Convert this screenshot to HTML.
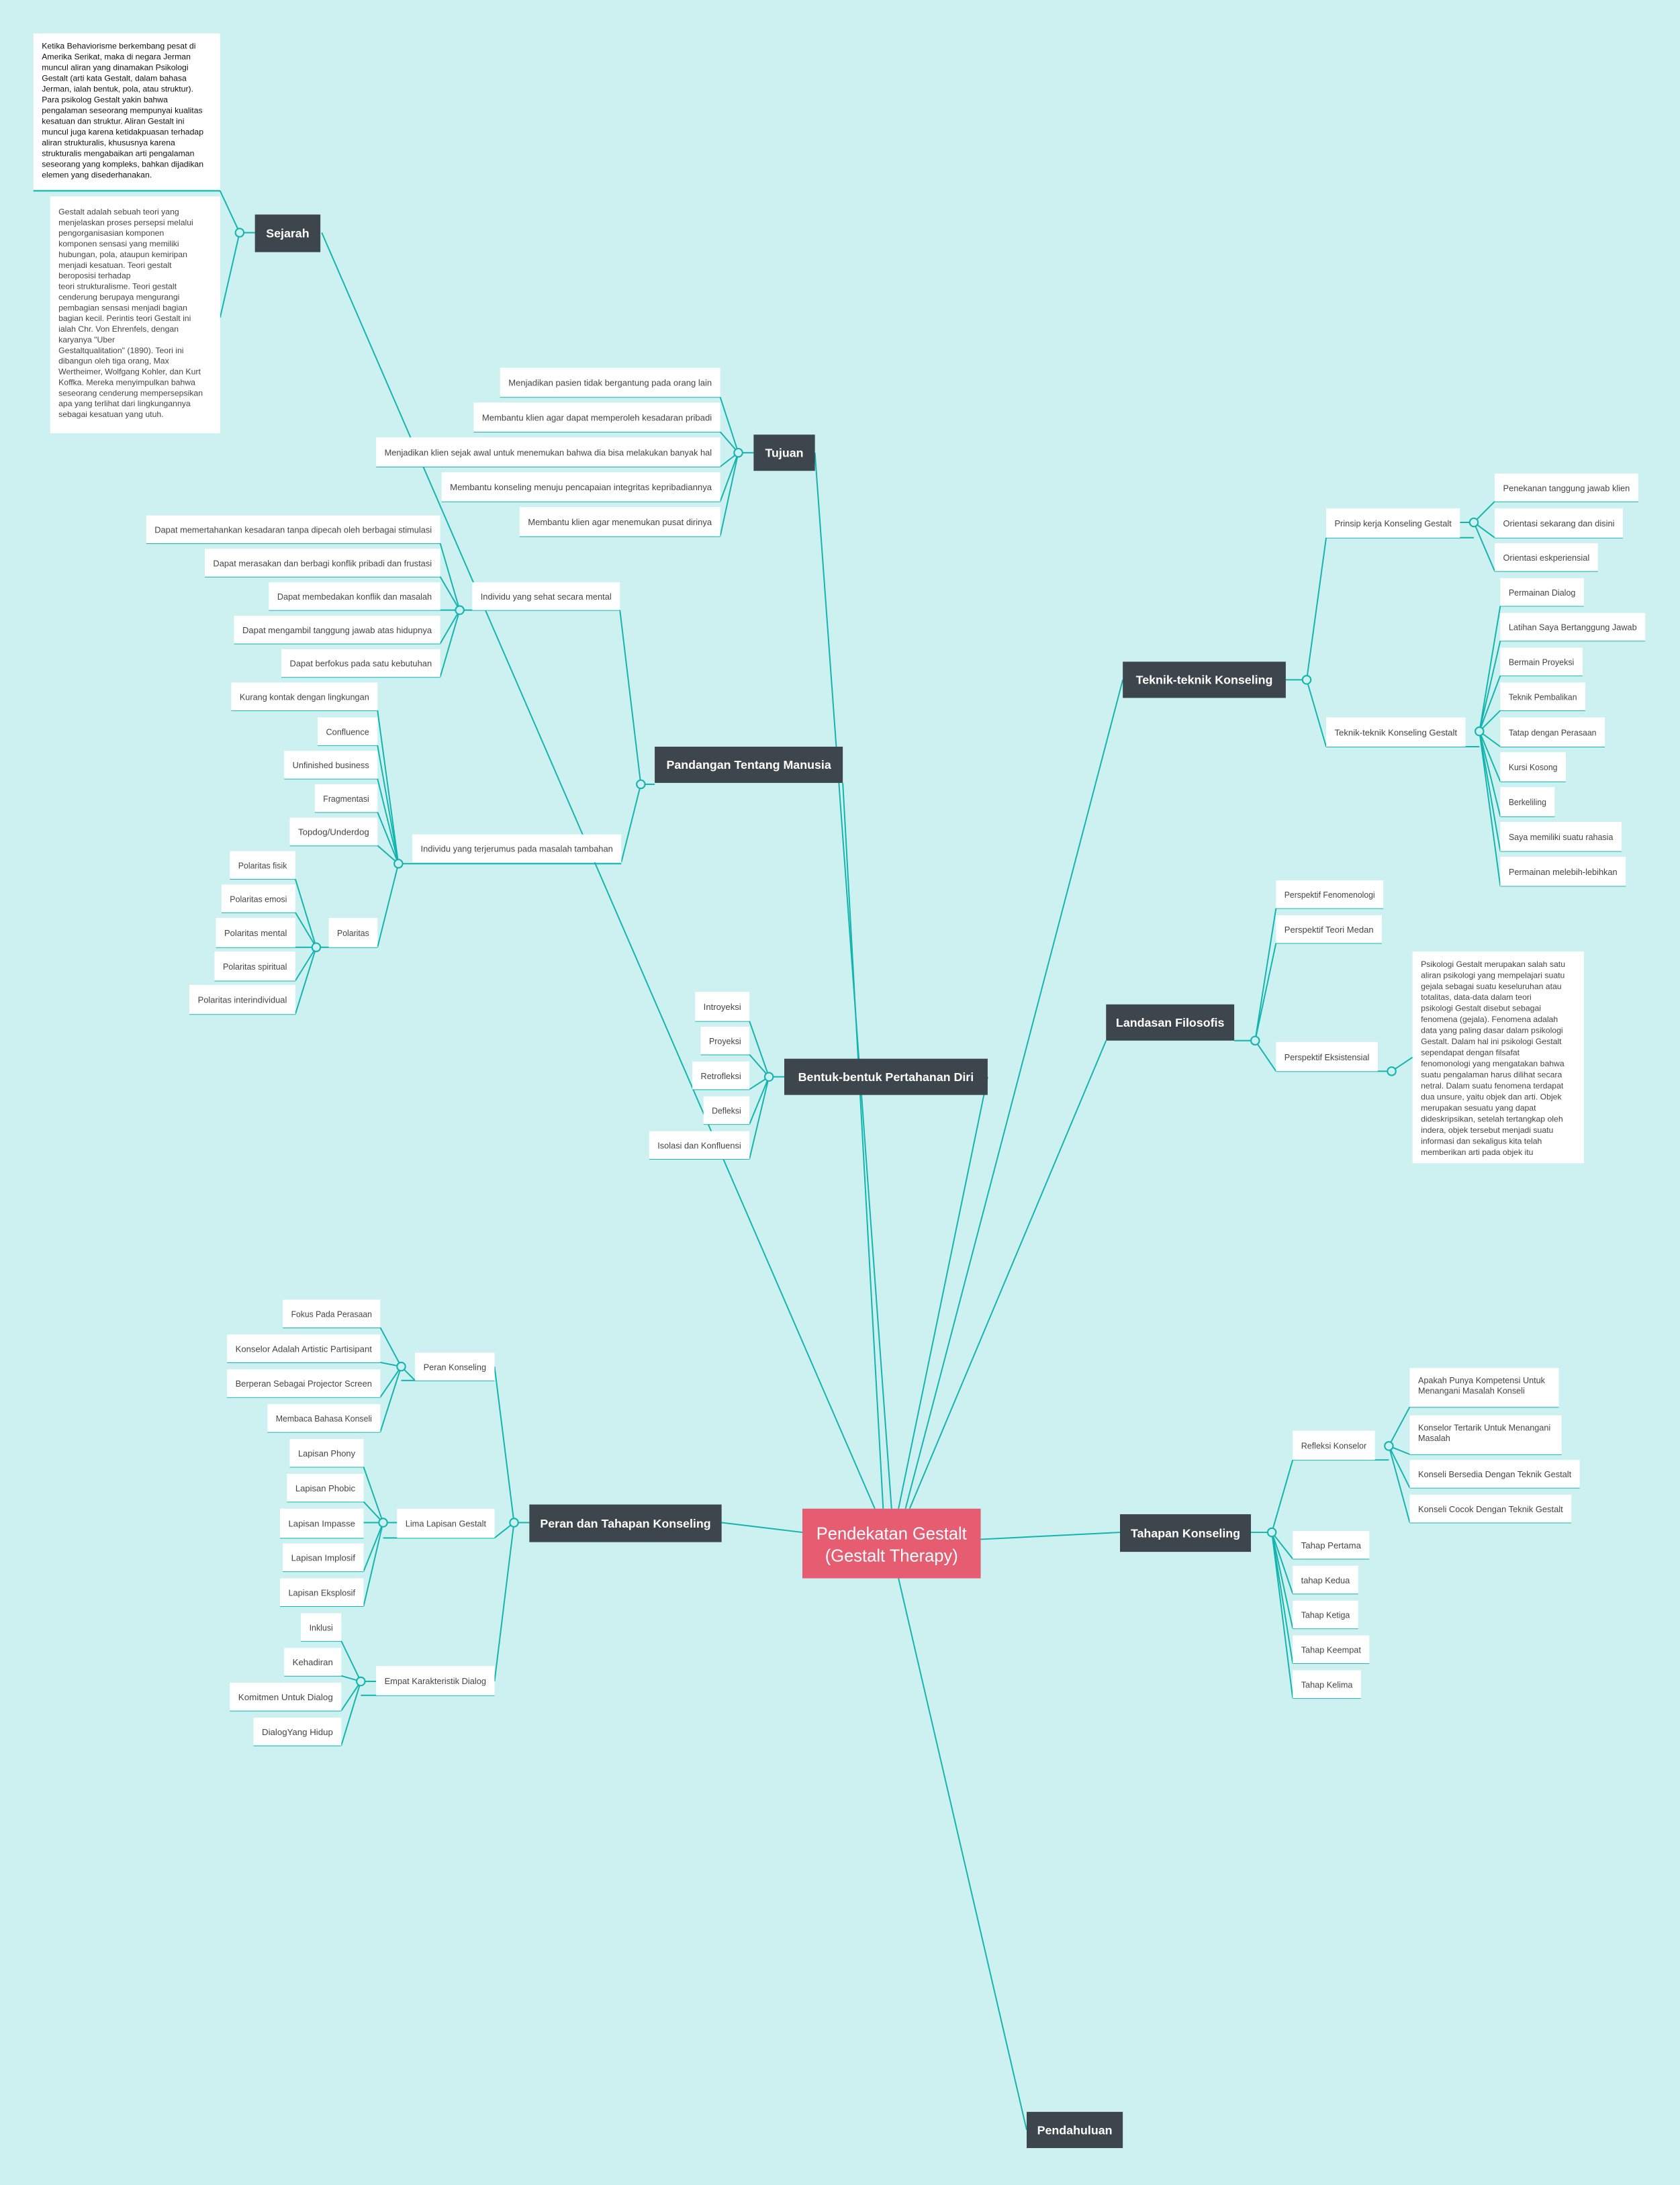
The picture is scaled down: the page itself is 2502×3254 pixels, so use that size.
<!DOCTYPE html>
<html><head><meta charset="utf-8"><style>
html,body{margin:0;padding:0;background:#cdf1f0;}
svg{display:block}
.l{stroke:#14b4ae;stroke-width:0.95;fill:none}
.c{stroke:#14b4ae;stroke-width:1;fill:#cdf1f0}
.b{fill:#fff}
.t{font-family:"Liberation Sans",sans-serif;font-size:6.1px;fill:#454545}
.p{font-family:"Liberation Sans",sans-serif;font-size:5.9px;fill:#454545}
.d{fill:#3d454d}
.dt{font-family:"Liberation Sans",sans-serif;font-size:8.6px;font-weight:bold;fill:#fff}
</style></head><body>
<svg width="2502" height="3254" viewBox="0 0 1206 1568.5" preserveAspectRatio="none" xmlns="http://www.w3.org/2000/svg">
<rect width="1206" height="1568.5" fill="#cdf1f0"/>
<!-- main connectors -->
<g class="l">
<line x1="231" y1="167" x2="628" y2="1083"/>
<line x1="585" y1="325" x2="640" y2="1083"/>
<line x1="605" y1="562" x2="634" y2="1083"/>
<line x1="709" y1="773" x2="645" y2="1083"/>
<line x1="806" y1="488" x2="650" y2="1083"/>
<line x1="794" y1="747" x2="653" y2="1083"/>
<line x1="804" y1="1100" x2="704" y2="1105"/>
<line x1="518" y1="1093" x2="576" y2="1100"/>
<line x1="737" y1="1529" x2="645" y2="1133"/>
</g>
<!-- Sejarah -->
<g class="l">
<line x1="172" y1="167" x2="183" y2="167"/>
<line x1="172" y1="167" x2="158" y2="137"/>
<line x1="172" y1="167" x2="158" y2="228"/>
<line x1="24" y1="137" x2="158" y2="137"/>
</g>
<rect class="b" x="24" y="24" width="134" height="112"/>
<text class="p" style="fill:#111" x="30" y="35"><tspan x="30">Ketika Behaviorisme berkembang pesat di</tspan><tspan x="30" dy="7.7">Amerika Serikat, maka di negara Jerman</tspan><tspan x="30" dy="7.7">muncul aliran yang dinamakan Psikologi</tspan><tspan x="30" dy="7.7">Gestalt (arti kata Gestalt, dalam bahasa</tspan><tspan x="30" dy="7.7">Jerman, ialah bentuk, pola, atau struktur).</tspan><tspan x="30" dy="7.7">Para psikolog Gestalt yakin bahwa</tspan><tspan x="30" dy="7.7">pengalaman seseorang mempunyai kualitas</tspan><tspan x="30" dy="7.7">kesatuan dan struktur. Aliran Gestalt ini</tspan><tspan x="30" dy="7.7">muncul juga karena ketidakpuasan terhadap</tspan><tspan x="30" dy="7.7">aliran strukturalis, khususnya karena</tspan><tspan x="30" dy="7.7">strukturalis mengabaikan arti pengalaman</tspan><tspan x="30" dy="7.7">seseorang yang kompleks, bahkan dijadikan</tspan><tspan x="30" dy="7.7">elemen yang disederhanakan.</tspan></text>
<rect class="b" x="36" y="141" width="122" height="170"/>
<text class="p" x="42" y="154"><tspan x="42">Gestalt adalah sebuah teori yang</tspan><tspan x="42" dy="7.65">menjelaskan proses persepsi melalui</tspan><tspan x="42" dy="7.65">pengorganisasian komponen</tspan><tspan x="42" dy="7.65">komponen sensasi yang memiliki</tspan><tspan x="42" dy="7.65">hubungan, pola, ataupun kemiripan</tspan><tspan x="42" dy="7.65">menjadi kesatuan. Teori gestalt</tspan><tspan x="42" dy="7.65">beroposisi terhadap</tspan><tspan x="42" dy="7.65">teori strukturalisme. Teori gestalt</tspan><tspan x="42" dy="7.65">cenderung berupaya mengurangi</tspan><tspan x="42" dy="7.65">pembagian sensasi menjadi bagian</tspan><tspan x="42" dy="7.65">bagian kecil. Perintis teori Gestalt ini</tspan><tspan x="42" dy="7.65">ialah Chr. Von Ehrenfels, dengan</tspan><tspan x="42" dy="7.65">karyanya "Uber</tspan><tspan x="42" dy="7.65">Gestaltqualitation" (1890). Teori ini</tspan><tspan x="42" dy="7.65">dibangun oleh tiga orang, Max</tspan><tspan x="42" dy="7.65">Wertheimer, Wolfgang Kohler, dan Kurt</tspan><tspan x="42" dy="7.65">Koffka. Mereka menyimpulkan bahwa</tspan><tspan x="42" dy="7.65">seseorang cenderung mempersepsikan</tspan><tspan x="42" dy="7.65">apa yang terlihat dari lingkungannya</tspan><tspan x="42" dy="7.65">sebagai kesatuan yang utuh.</tspan></text>
<circle class="c" cx="172" cy="167" r="3"/>
<rect class="d" x="183" y="154" width="47" height="27"/>
<text class="dt" x="206.5" y="170.5" text-anchor="middle">Sejarah</text>

<!-- Tujuan -->
<g class="l">
<line x1="530" y1="325" x2="541" y2="325"/>
<line x1="530" y1="325" x2="517" y2="285"/><line x1="359" y1="285" x2="517" y2="285"/>
<line x1="530" y1="325" x2="517" y2="310"/><line x1="340" y1="310" x2="517" y2="310"/>
<line x1="530" y1="325" x2="517" y2="335"/><line x1="270" y1="335" x2="517" y2="335"/>
<line x1="530" y1="325" x2="517" y2="360"/><line x1="317" y1="360" x2="517" y2="360"/>
<line x1="530" y1="325" x2="517" y2="385"/><line x1="373" y1="385" x2="517" y2="385"/>
</g>
<rect class="b" x="359" y="264" width="158" height="21"/><text class="t" x="365" y="277" textLength="146" lengthAdjust="spacingAndGlyphs">Menjadikan pasien tidak bergantung pada orang lain</text>
<rect class="b" x="340" y="289" width="177" height="21"/><text class="t" x="346" y="302" textLength="165" lengthAdjust="spacingAndGlyphs">Membantu klien agar dapat memperoleh kesadaran pribadi</text>
<rect class="b" x="270" y="314" width="247" height="21"/><text class="t" x="276" y="327" textLength="235" lengthAdjust="spacingAndGlyphs">Menjadikan klien sejak awal untuk menemukan bahwa dia bisa melakukan banyak hal</text>
<rect class="b" x="317" y="339" width="200" height="21"/><text class="t" x="323" y="352" textLength="188" lengthAdjust="spacingAndGlyphs">Membantu konseling menuju pencapaian integritas kepribadiannya</text>
<rect class="b" x="373" y="364" width="144" height="21"/><text class="t" x="379" y="377" textLength="132" lengthAdjust="spacingAndGlyphs">Membantu klien agar menemukan pusat dirinya</text>
<circle class="c" cx="530" cy="325" r="3"/>
<rect class="d" x="541" y="312" width="44" height="26"/>
<text class="dt" x="563" y="328" text-anchor="middle">Tujuan</text>

<!-- Pandangan -->
<g class="l">
<line x1="460" y1="563" x2="470" y2="563"/>
<line x1="460" y1="563" x2="445" y2="438"/>
<line x1="460" y1="563" x2="446" y2="619"/>
<line x1="330" y1="438" x2="445" y2="438"/>
<line x1="286" y1="620" x2="446" y2="620"/>
<line x1="330" y1="438" x2="316" y2="390"/><line x1="105" y1="390" x2="316" y2="390"/>
<line x1="330" y1="438" x2="316" y2="414"/><line x1="147" y1="414" x2="316" y2="414"/>
<line x1="330" y1="438" x2="316" y2="438"/><line x1="193" y1="438" x2="316" y2="438"/>
<line x1="330" y1="438" x2="316" y2="462"/><line x1="168" y1="462" x2="316" y2="462"/>
<line x1="330" y1="438" x2="316" y2="486"/><line x1="202" y1="486" x2="316" y2="486"/>
<line x1="286" y1="620" x2="271" y2="510"/><line x1="166" y1="510" x2="271" y2="510"/>
<line x1="286" y1="620" x2="271" y2="535"/><line x1="228" y1="535" x2="271" y2="535"/>
<line x1="286" y1="620" x2="271" y2="559"/><line x1="204" y1="559" x2="271" y2="559"/>
<line x1="286" y1="620" x2="271" y2="583"/><line x1="226" y1="583" x2="271" y2="583"/>
<line x1="286" y1="620" x2="271" y2="607"/><line x1="208" y1="607" x2="271" y2="607"/>
<line x1="286" y1="620" x2="271" y2="680"/><line x1="227" y1="680" x2="271" y2="680"/>
<line x1="227" y1="680" x2="212" y2="631"/><line x1="165" y1="631" x2="212" y2="631"/>
<line x1="227" y1="680" x2="212" y2="655"/><line x1="159" y1="655" x2="212" y2="655"/>
<line x1="227" y1="680" x2="212" y2="680"/><line x1="155" y1="680" x2="212" y2="680"/>
<line x1="227" y1="680" x2="212" y2="704"/><line x1="154" y1="704" x2="212" y2="704"/>
<line x1="227" y1="680" x2="212" y2="728"/><line x1="136" y1="728" x2="212" y2="728"/>
</g>
<rect class="b" x="339" y="418" width="106" height="20"/><text class="t" x="345" y="430.5" textLength="94" lengthAdjust="spacingAndGlyphs">Individu yang sehat secara mental</text>
<rect class="b" x="105" y="370" width="211" height="20"/><text class="t" x="111" y="382.5" textLength="199" lengthAdjust="spacingAndGlyphs">Dapat memertahankan kesadaran tanpa dipecah oleh berbagai stimulasi</text>
<rect class="b" x="147" y="394" width="169" height="20"/><text class="t" x="153" y="406.5" textLength="157" lengthAdjust="spacingAndGlyphs">Dapat merasakan dan berbagi konflik pribadi dan frustasi</text>
<rect class="b" x="193" y="418" width="123" height="20"/><text class="t" x="199" y="430.5" textLength="111" lengthAdjust="spacingAndGlyphs">Dapat membedakan konflik dan masalah</text>
<rect class="b" x="168" y="442" width="148" height="20"/><text class="t" x="174" y="454.5" textLength="136" lengthAdjust="spacingAndGlyphs">Dapat mengambil tanggung jawab atas hidupnya</text>
<rect class="b" x="202" y="466" width="114" height="20"/><text class="t" x="208" y="478.5" textLength="102" lengthAdjust="spacingAndGlyphs">Dapat berfokus pada satu kebutuhan</text>
<rect class="b" x="296" y="599" width="150" height="20"/><text class="t" x="302" y="611.5" textLength="138" lengthAdjust="spacingAndGlyphs">Individu yang terjerumus pada masalah tambahan</text>
<rect class="b" x="166" y="490" width="105" height="20"/><text class="t" x="172" y="502.5" textLength="93" lengthAdjust="spacingAndGlyphs">Kurang kontak dengan lingkungan</text>
<rect class="b" x="228" y="515" width="43" height="20"/><text class="t" x="234" y="527.5" textLength="31" lengthAdjust="spacingAndGlyphs">Confluence</text>
<rect class="b" x="204" y="539" width="67" height="20"/><text class="t" x="210" y="551.5" textLength="55" lengthAdjust="spacingAndGlyphs">Unfinished business</text>
<rect class="b" x="226" y="563" width="45" height="20"/><text class="t" x="232" y="575.5" textLength="33" lengthAdjust="spacingAndGlyphs">Fragmentasi</text>
<rect class="b" x="208" y="587" width="63" height="20"/><text class="t" x="214" y="599.5" textLength="51" lengthAdjust="spacingAndGlyphs">Topdog/Underdog</text>
<rect class="b" x="236" y="659" width="35" height="21"/><text class="t" x="242" y="672" textLength="23" lengthAdjust="spacingAndGlyphs">Polaritas</text>
<rect class="b" x="165" y="611" width="47" height="20"/><text class="t" x="171" y="623.5" textLength="35" lengthAdjust="spacingAndGlyphs">Polaritas fisik</text>
<rect class="b" x="159" y="635" width="53" height="20"/><text class="t" x="165" y="647.5" textLength="41" lengthAdjust="spacingAndGlyphs">Polaritas emosi</text>
<rect class="b" x="155" y="659" width="57" height="21"/><text class="t" x="161" y="672" textLength="45" lengthAdjust="spacingAndGlyphs">Polaritas mental</text>
<rect class="b" x="154" y="683" width="58" height="21"/><text class="t" x="160" y="696" textLength="46" lengthAdjust="spacingAndGlyphs">Polaritas spiritual</text>
<rect class="b" x="136" y="707" width="76" height="21"/><text class="t" x="142" y="720" textLength="64" lengthAdjust="spacingAndGlyphs">Polaritas interindividual</text>
<circle class="c" cx="460" cy="563" r="3"/><circle class="c" cx="330" cy="438" r="3"/><circle class="c" cx="286" cy="620" r="3"/><circle class="c" cx="227" cy="680" r="3"/>
<rect class="d" x="470" y="536" width="135" height="26"/>
<text class="dt" x="537.5" y="552" text-anchor="middle">Pandangan Tentang Manusia</text>

<!-- Bentuk -->
<g class="l">
<line x1="552" y1="773" x2="563" y2="773"/>
<line x1="552" y1="773" x2="538" y2="733"/><line x1="499" y1="733" x2="538" y2="733"/>
<line x1="552" y1="773" x2="538" y2="757"/><line x1="503" y1="757" x2="538" y2="757"/>
<line x1="552" y1="773" x2="538" y2="782"/><line x1="497" y1="782" x2="538" y2="782"/>
<line x1="552" y1="773" x2="538" y2="807"/><line x1="505" y1="807" x2="538" y2="807"/>
<line x1="552" y1="773" x2="538" y2="832"/><line x1="466" y1="832" x2="538" y2="832"/>
</g>
<rect class="b" x="499" y="712" width="39" height="21"/><text class="t" x="505" y="725" textLength="27" lengthAdjust="spacingAndGlyphs">Introyeksi</text>
<rect class="b" x="503" y="737" width="35" height="20"/><text class="t" x="509" y="749.5" textLength="23" lengthAdjust="spacingAndGlyphs">Proyeksi</text>
<rect class="b" x="497" y="762" width="41" height="20"/><text class="t" x="503" y="774.5" textLength="29" lengthAdjust="spacingAndGlyphs">Retrofleksi</text>
<rect class="b" x="505" y="787" width="33" height="20"/><text class="t" x="511" y="799.5" textLength="21" lengthAdjust="spacingAndGlyphs">Defleksi</text>
<rect class="b" x="466" y="812" width="72" height="20"/><text class="t" x="472" y="824.5" textLength="60" lengthAdjust="spacingAndGlyphs">Isolasi dan Konfluensi</text>
<circle class="c" cx="552" cy="773" r="3"/>
<rect class="d" x="563" y="760" width="146" height="26"/>
<text class="dt" x="636" y="776" text-anchor="middle">Bentuk-bentuk Pertahanan Diri</text>

<!-- Teknik -->
<g class="l">
<line x1="923" y1="488" x2="938" y2="488"/>
<line x1="938" y1="488" x2="952" y2="386"/><line x1="952" y1="386" x2="1058" y2="386"/>
<line x1="938" y1="488" x2="952" y2="536"/><line x1="952" y1="536" x2="1062" y2="536"/>
<line x1="1048" y1="375" x2="1058" y2="375"/>
<line x1="1058" y1="375" x2="1073" y2="360"/><line x1="1073" y1="360" x2="1176" y2="360"/>
<line x1="1058" y1="375" x2="1073" y2="386"/><line x1="1073" y1="386" x2="1165" y2="386"/>
<line x1="1058" y1="375" x2="1073" y2="410"/><line x1="1073" y1="410" x2="1147" y2="410"/>
<line x1="1062" y1="525" x2="1077" y2="435"/><line x1="1077" y1="435" x2="1137" y2="435"/>
<line x1="1062" y1="525" x2="1077" y2="460"/><line x1="1077" y1="460" x2="1181" y2="460"/>
<line x1="1062" y1="525" x2="1077" y2="485"/><line x1="1077" y1="485" x2="1136" y2="485"/>
<line x1="1062" y1="525" x2="1077" y2="510"/><line x1="1077" y1="510" x2="1138" y2="510"/>
<line x1="1062" y1="525" x2="1077" y2="536"/><line x1="1077" y1="536" x2="1152" y2="536"/>
<line x1="1062" y1="525" x2="1077" y2="561"/><line x1="1077" y1="561" x2="1124" y2="561"/>
<line x1="1062" y1="525" x2="1077" y2="586"/><line x1="1077" y1="586" x2="1116" y2="586"/>
<line x1="1062" y1="525" x2="1077" y2="611"/><line x1="1077" y1="611" x2="1164" y2="611"/>
<line x1="1062" y1="525" x2="1077" y2="636"/><line x1="1077" y1="636" x2="1167" y2="636"/>
</g>
<rect class="b" x="952" y="365" width="96" height="21"/><text class="t" x="958" y="378" textLength="84" lengthAdjust="spacingAndGlyphs">Prinsip kerja Konseling Gestalt</text>
<rect class="b" x="952" y="515" width="100" height="21"/><text class="t" x="958" y="528" textLength="88" lengthAdjust="spacingAndGlyphs">Teknik-teknik Konseling Gestalt</text>
<rect class="b" x="1073" y="340" width="103" height="20"/><text class="t" x="1079" y="352.5" textLength="91" lengthAdjust="spacingAndGlyphs">Penekanan tanggung jawab klien</text>
<rect class="b" x="1073" y="365" width="92" height="21"/><text class="t" x="1079" y="378" textLength="80" lengthAdjust="spacingAndGlyphs">Orientasi sekarang dan disini</text>
<rect class="b" x="1073" y="390" width="74" height="20"/><text class="t" x="1079" y="402.5" textLength="62" lengthAdjust="spacingAndGlyphs">Orientasi eskperiensial</text>
<rect class="b" x="1077" y="415" width="60" height="20"/><text class="t" x="1083" y="427.5" textLength="48" lengthAdjust="spacingAndGlyphs">Permainan Dialog</text>
<rect class="b" x="1077" y="440" width="104" height="20"/><text class="t" x="1083" y="452.5" textLength="92" lengthAdjust="spacingAndGlyphs">Latihan Saya Bertanggung Jawab</text>
<rect class="b" x="1077" y="465" width="59" height="20"/><text class="t" x="1083" y="477.5" textLength="47" lengthAdjust="spacingAndGlyphs">Bermain Proyeksi</text>
<rect class="b" x="1077" y="490" width="61" height="20"/><text class="t" x="1083" y="502.5" textLength="49" lengthAdjust="spacingAndGlyphs">Teknik Pembalikan</text>
<rect class="b" x="1077" y="515" width="75" height="21"/><text class="t" x="1083" y="528" textLength="63" lengthAdjust="spacingAndGlyphs">Tatap dengan Perasaan</text>
<rect class="b" x="1077" y="540" width="47" height="21"/><text class="t" x="1083" y="553" textLength="35" lengthAdjust="spacingAndGlyphs">Kursi Kosong</text>
<rect class="b" x="1077" y="565" width="39" height="21"/><text class="t" x="1083" y="578" textLength="27" lengthAdjust="spacingAndGlyphs">Berkeliling</text>
<rect class="b" x="1077" y="590" width="87" height="21"/><text class="t" x="1083" y="603" textLength="75" lengthAdjust="spacingAndGlyphs">Saya memiliki suatu rahasia</text>
<rect class="b" x="1077" y="615" width="90" height="21"/><text class="t" x="1083" y="628" textLength="78" lengthAdjust="spacingAndGlyphs">Permainan melebih-lebihkan</text>
<circle class="c" cx="938" cy="488" r="3"/><circle class="c" cx="1058" cy="375" r="3"/><circle class="c" cx="1062" cy="525" r="3"/>
<rect class="d" x="806" y="475" width="117" height="26"/>
<text class="dt" x="864.5" y="491" text-anchor="middle">Teknik-teknik Konseling</text>

<!-- Landasan -->
<g class="l">
<line x1="886" y1="747" x2="901" y2="747"/>
<line x1="901" y1="747" x2="916" y2="652"/><line x1="916" y1="652" x2="993" y2="652"/>
<line x1="901" y1="747" x2="916" y2="677"/><line x1="916" y1="677" x2="992" y2="677"/>
<line x1="901" y1="747" x2="916" y2="769"/><line x1="916" y1="769" x2="999" y2="769"/>
<line x1="999" y1="769" x2="1014" y2="759"/>
</g>
<rect class="b" x="916" y="632" width="77" height="20"/><text class="t" x="922" y="644.5" textLength="65" lengthAdjust="spacingAndGlyphs">Perspektif Fenomenologi</text>
<rect class="b" x="916" y="657" width="76" height="20"/><text class="t" x="922" y="669.5" textLength="64" lengthAdjust="spacingAndGlyphs">Perspektif Teori Medan</text>
<rect class="b" x="916" y="748" width="73" height="21"/><text class="t" x="922" y="761" textLength="61" lengthAdjust="spacingAndGlyphs">Perspektif Eksistensial</text>
<rect class="b" x="1014" y="683" width="123" height="152"/>
<text class="p" x="1020" y="694"><tspan x="1020">Psikologi Gestalt merupakan salah satu</tspan><tspan x="1020" dy="7.95">aliran psikologi yang mempelajari suatu</tspan><tspan x="1020" dy="7.95">gejala sebagai suatu keseluruhan atau</tspan><tspan x="1020" dy="7.95">totalitas, data-data dalam teori</tspan><tspan x="1020" dy="7.95">psikologi Gestalt disebut sebagai</tspan><tspan x="1020" dy="7.95">fenomena (gejala). Fenomena adalah</tspan><tspan x="1020" dy="7.95">data yang paling dasar dalam psikologi</tspan><tspan x="1020" dy="7.95">Gestalt. Dalam hal ini psikologi Gestalt</tspan><tspan x="1020" dy="7.95">sependapat dengan filsafat</tspan><tspan x="1020" dy="7.95">fenomonologi yang mengatakan bahwa</tspan><tspan x="1020" dy="7.95">suatu pengalaman harus dilihat secara</tspan><tspan x="1020" dy="7.95">netral. Dalam suatu fenomena terdapat</tspan><tspan x="1020" dy="7.95">dua unsure, yaitu objek dan arti. Objek</tspan><tspan x="1020" dy="7.95">merupakan sesuatu yang dapat</tspan><tspan x="1020" dy="7.95">dideskripsikan, setelah tertangkap oleh</tspan><tspan x="1020" dy="7.95">indera, objek tersebut menjadi suatu</tspan><tspan x="1020" dy="7.95">informasi dan sekaligus kita telah</tspan><tspan x="1020" dy="7.95">memberikan arti pada objek itu</tspan></text>
<circle class="c" cx="901" cy="747" r="3"/><circle class="c" cx="999" cy="769" r="3"/>
<rect class="d" x="794" y="721" width="92" height="26"/>
<text class="dt" x="840" y="737" text-anchor="middle">Landasan Filosofis</text>

<!-- Tahapan -->
<g class="l">
<line x1="898" y1="1100" x2="913" y2="1100"/>
<line x1="913" y1="1100" x2="928" y2="1048"/><line x1="928" y1="1048" x2="997" y2="1048"/>
<line x1="997" y1="1038" x2="1012" y2="1010"/><line x1="1012" y1="1010" x2="1119" y2="1010"/>
<line x1="997" y1="1038" x2="1012" y2="1044"/><line x1="1012" y1="1044" x2="1121" y2="1044"/>
<line x1="997" y1="1038" x2="1012" y2="1068"/><line x1="1012" y1="1068" x2="1134" y2="1068"/>
<line x1="997" y1="1038" x2="1012" y2="1093"/><line x1="1012" y1="1093" x2="1128" y2="1093"/>
<line x1="913" y1="1100" x2="928" y2="1119"/><line x1="928" y1="1119" x2="983" y2="1119"/>
<line x1="913" y1="1100" x2="928" y2="1144"/><line x1="928" y1="1144" x2="975" y2="1144"/>
<line x1="913" y1="1100" x2="928" y2="1169"/><line x1="928" y1="1169" x2="975" y2="1169"/>
<line x1="913" y1="1100" x2="928" y2="1194"/><line x1="928" y1="1194" x2="983" y2="1194"/>
<line x1="913" y1="1100" x2="928" y2="1219"/><line x1="928" y1="1219" x2="977" y2="1219"/>
</g>
<rect class="b" x="928" y="1027" width="59" height="21"/><text class="t" x="934" y="1040" textLength="47" lengthAdjust="spacingAndGlyphs">Refleksi Konselor</text>
<rect class="b" x="1012" y="982" width="107" height="28"/><text class="t" x="1018" y="993"><tspan x="1018">Apakah Punya Kompetensi  Untuk</tspan><tspan x="1018" dy="7.4">Menangani Masalah Konseli</tspan></text>
<rect class="b" x="1012" y="1016" width="109" height="28"/><text class="t" x="1018" y="1027"><tspan x="1018">Konselor Tertarik Untuk Menangani</tspan><tspan x="1018" dy="7.4">Masalah</tspan></text>
<rect class="b" x="1012" y="1048" width="122" height="20"/><text class="t" x="1018" y="1060.5" textLength="110" lengthAdjust="spacingAndGlyphs">Konseli Bersedia Dengan Teknik Gestalt</text>
<rect class="b" x="1012" y="1073" width="116" height="20"/><text class="t" x="1018" y="1085.5" textLength="104" lengthAdjust="spacingAndGlyphs">Konseli Cocok Dengan Teknik Gestalt</text>
<rect class="b" x="928" y="1099" width="55" height="20"/><text class="t" x="934" y="1111.5" textLength="43" lengthAdjust="spacingAndGlyphs">Tahap  Pertama</text>
<rect class="b" x="928" y="1124" width="47" height="20"/><text class="t" x="934" y="1136.5" textLength="35" lengthAdjust="spacingAndGlyphs">tahap Kedua</text>
<rect class="b" x="928" y="1149" width="47" height="20"/><text class="t" x="934" y="1161.5" textLength="35" lengthAdjust="spacingAndGlyphs">Tahap Ketiga</text>
<rect class="b" x="928" y="1174" width="55" height="20"/><text class="t" x="934" y="1186.5" textLength="43" lengthAdjust="spacingAndGlyphs">Tahap Keempat</text>
<rect class="b" x="928" y="1199" width="49" height="20"/><text class="t" x="934" y="1211.5" textLength="37" lengthAdjust="spacingAndGlyphs">Tahap Kelima</text>
<circle class="c" cx="913" cy="1100" r="3"/><circle class="c" cx="997" cy="1038" r="3"/>
<rect class="d" x="804" y="1087" width="94" height="27"/>
<text class="dt" x="851" y="1103.5" text-anchor="middle">Tahapan Konseling</text>

<!-- Peran -->
<g class="l">
<line x1="369" y1="1093" x2="380" y2="1093"/>
<line x1="369" y1="1093" x2="355" y2="981"/><line x1="288" y1="991" x2="355" y2="991"/>
<line x1="369" y1="1093" x2="355" y2="1104"/><line x1="275" y1="1104" x2="355" y2="1104"/>
<line x1="369" y1="1093" x2="355" y2="1207"/><line x1="259" y1="1217" x2="355" y2="1217"/>
<line x1="288" y1="981" x2="298" y2="991"/>
<line x1="288" y1="981" x2="273" y2="953"/><line x1="203" y1="953" x2="273" y2="953"/>
<line x1="288" y1="981" x2="273" y2="978"/><line x1="163" y1="978" x2="273" y2="978"/>
<line x1="288" y1="981" x2="273" y2="1003"/><line x1="163" y1="1003" x2="273" y2="1003"/>
<line x1="288" y1="981" x2="273" y2="1028"/><line x1="192" y1="1028" x2="273" y2="1028"/>
<line x1="275" y1="1093" x2="261" y2="1053"/><line x1="208" y1="1053" x2="261" y2="1053"/>
<line x1="275" y1="1093" x2="261" y2="1078"/><line x1="206" y1="1078" x2="261" y2="1078"/>
<line x1="275" y1="1093" x2="285" y2="1093"/><line x1="261" y1="1093" x2="275" y2="1093"/><line x1="201" y1="1104" x2="261" y2="1104"/>
<line x1="275" y1="1093" x2="261" y2="1128"/><line x1="203" y1="1128" x2="261" y2="1128"/>
<line x1="275" y1="1093" x2="261" y2="1153"/><line x1="201" y1="1153" x2="261" y2="1153"/>
<line x1="259" y1="1207" x2="270" y2="1207"/>
<line x1="259" y1="1207" x2="245" y2="1178"/><line x1="216" y1="1178" x2="245" y2="1178"/>
<line x1="259" y1="1207" x2="245" y2="1203"/><line x1="204" y1="1203" x2="245" y2="1203"/>
<line x1="259" y1="1207" x2="245" y2="1228"/><line x1="165" y1="1228" x2="245" y2="1228"/>
<line x1="259" y1="1207" x2="245" y2="1253"/><line x1="182" y1="1253" x2="245" y2="1253"/>
</g>
<rect class="b" x="298" y="971" width="57" height="20"/><text class="t" x="304" y="983.5" textLength="45" lengthAdjust="spacingAndGlyphs">Peran Konseling</text>
<rect class="b" x="203" y="933" width="70" height="20"/><text class="t" x="209" y="945.5" textLength="58" lengthAdjust="spacingAndGlyphs">Fokus Pada Perasaan</text>
<rect class="b" x="163" y="958" width="110" height="20"/><text class="t" x="169" y="970.5" textLength="98" lengthAdjust="spacingAndGlyphs">Konselor Adalah Artistic Partisipant</text>
<rect class="b" x="163" y="983" width="110" height="20"/><text class="t" x="169" y="995.5" textLength="98" lengthAdjust="spacingAndGlyphs">Berperan Sebagai Projector Screen</text>
<rect class="b" x="192" y="1008" width="81" height="20"/><text class="t" x="198" y="1020.5" textLength="69" lengthAdjust="spacingAndGlyphs">Membaca Bahasa Konseli</text>
<rect class="b" x="285" y="1083" width="70" height="21"/><text class="t" x="291" y="1096" textLength="58" lengthAdjust="spacingAndGlyphs">Lima Lapisan Gestalt</text>
<rect class="b" x="208" y="1033" width="53" height="20"/><text class="t" x="214" y="1045.5" textLength="41" lengthAdjust="spacingAndGlyphs">Lapisan Phony</text>
<rect class="b" x="206" y="1058" width="55" height="20"/><text class="t" x="212" y="1070.5" textLength="43" lengthAdjust="spacingAndGlyphs">Lapisan Phobic</text>
<rect class="b" x="201" y="1083" width="60" height="21"/><text class="t" x="207" y="1096" textLength="48" lengthAdjust="spacingAndGlyphs">Lapisan Impasse</text>
<rect class="b" x="203" y="1108" width="58" height="20"/><text class="t" x="209" y="1120.5" textLength="46" lengthAdjust="spacingAndGlyphs">Lapisan Implosif</text>
<rect class="b" x="201" y="1133" width="60" height="20"/><text class="t" x="207" y="1145.5" textLength="48" lengthAdjust="spacingAndGlyphs">Lapisan Eksplosif</text>
<rect class="b" x="270" y="1196" width="85" height="21"/><text class="t" x="276" y="1209" textLength="73" lengthAdjust="spacingAndGlyphs">Empat Karakteristik Dialog</text>
<rect class="b" x="216" y="1158" width="29" height="20"/><text class="t" x="222" y="1170.5" textLength="17" lengthAdjust="spacingAndGlyphs">Inklusi</text>
<rect class="b" x="204" y="1183" width="41" height="20"/><text class="t" x="210" y="1195.5" textLength="29" lengthAdjust="spacingAndGlyphs">Kehadiran</text>
<rect class="b" x="165" y="1208" width="80" height="20"/><text class="t" x="171" y="1220.5" textLength="68" lengthAdjust="spacingAndGlyphs">Komitmen Untuk Dialog</text>
<rect class="b" x="182" y="1233" width="63" height="20"/><text class="t" x="188" y="1245.5" textLength="51" lengthAdjust="spacingAndGlyphs">DialogYang Hidup</text>
<circle class="c" cx="369" cy="1093" r="3"/><circle class="c" cx="288" cy="981" r="3"/><circle class="c" cx="275" cy="1093" r="3"/><circle class="c" cx="259" cy="1207" r="3"/>
<rect class="d" x="380" y="1080" width="138" height="27"/>
<text class="dt" x="449" y="1096.5" text-anchor="middle">Peran dan Tahapan Konseling</text>

<!-- Pendahuluan -->
<rect class="d" x="737" y="1516" width="69" height="26"/>
<text class="dt" x="771.5" y="1532" text-anchor="middle">Pendahuluan</text>

<!-- central -->
<rect x="576" y="1083" width="128" height="50" fill="#e65c71"/>
<text x="640" y="1105" text-anchor="middle" font-family="Liberation Sans, sans-serif" font-size="12.3" fill="#fff">Pendekatan Gestalt</text>
<text x="640" y="1121" text-anchor="middle" font-family="Liberation Sans, sans-serif" font-size="12.3" fill="#fff">(Gestalt Therapy)</text>
</svg>
</body></html>
